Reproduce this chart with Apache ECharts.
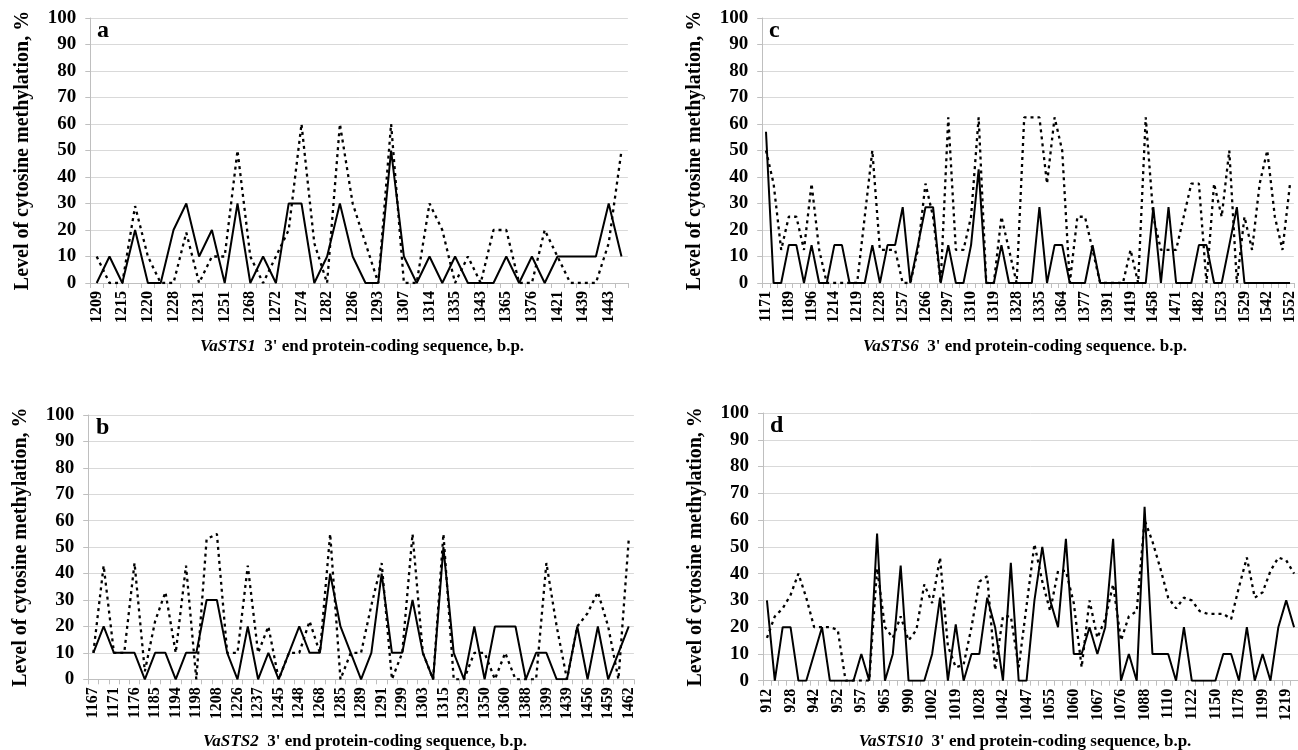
<!DOCTYPE html>
<html>
<head>
<meta charset="utf-8">
<script src="https://cdn.jsdelivr.net/npm/echarts@6/dist/echarts.min.js"></script>
<style>
html,body{margin:0;padding:0;background:#fff;overflow:hidden;}
#chart{width:1298px;height:750px;}
</style>
</head>
<body>
<div id="chart"></div>
<script>
// ---------- Panel a : VaSTS1 ----------
const aTicks = ['1209','1215','1220','1228','1231','1251','1268','1272','1274','1282','1286','1293','1307','1314','1335','1343','1365','1376','1421','1439','1443'];
const aSolid = [0,10,0,20,0,0,20,30,10,20, 0,30,0,10,0,30,30,0,10,30, 10,0,0,50,10,0,10,0,10,0, 0,0,10,0,10,0,10,10,10,10, 30,10];
const aDashed = [10,0,0,29,10,0,0,19,0,10, 10,50,10,0,10,20,60,15,0,60, 30,15,0,60,0,0,30,20,0,10, 0,20,20,0,0,20,10,0,0,0, 15,50];

// ---------- Panel b : VaSTS2 ----------
const bTicks = ['1167','1171','1176','1185','1194','1198','1208','1226','1237','1245','1248','1268','1285','1289','1291','1299','1303','1315','1329','1350','1360','1388','1399','1439','1456','1459','1462'];
const bSolid = [10,20,10,10,10,0,10,10,0,10, 10,30,30,10,0,20,0,10,0,10, 20,10,10,40,20,10,0,10,40,10, 10,30,10,0,50,10,0,20,0,20, 20,20,0,10,10,0,0,20,0,20, 0,10,20];
const bDashed = [10,43,10,10,44,3,22,33,10,43, 0,53,55,10,10,43,10,20,0,10, 10,22,10,55,0,10,10,28,44,0, 10,55,10,0,55,0,0,10,10,0, 10,0,0,0,44,20,0,20,25,33, 20,0,53];

// ---------- Panel c : VaSTS6 ----------
const cTicks = ['1171','1189','1196','1214','1219','1228','1257','1266','1297','1310','1319','1328','1335','1364','1377','1391','1419','1458','1471','1482','1523','1529','1542','1552'];
const cSolid = [57.1,0,0,14.3,14.3,0,14.3,0,0,14.3, 14.3,0,0,0,14.3,0,14.3,14.3,28.6,0, 14.3,28.6,28.6,0,14.3,0,0,14.3,42.9,0, 0,14.3,0,0,0,0,28.6,0,14.3,14.3, 0,0,0,14.3,0,0,0,0,0,0, 0,28.6,0,28.6,0,0,0,14.3,14.3,0, 0,14.3,28.6,0,0,0,0,0,0,0];
const cDashed = [50,37.5,12.5,25,25,12.5,37.5,12.5,0,0, 0,0,0,25,50,12.5,12.5,12.5,0,0, 12.5,37.5,25,0,62.5,12.5,12.5,25,62.5,0, 0,25,12.5,0,62.5,62.5,62.5,37.5,62.5,50, 0,25,25,12.5,0,0,0,0,12.5,0, 62.5,25,12.5,12.5,12.5,25,37.5,37.5,0,37.5, 25,50,0,25,12.5,37.5,50,25,12.5,37.5];

// ---------- Panel d : VaSTS10 ----------
const dTicks = ['912','928','942','952','957','965','990','1002','1019','1028','1042','1047','1055','1060','1067','1076','1088','1110','1122','1150','1178','1199','1219'];
const dSolid = [30,0,20,20,0,0,10,20,0,0, 0,0,10,0,55,0,10,43,0,0, 0,10,31,0,21,0,10,10,31,20, 0,44,0,0,30,50,30,20,53,10, 10,20,10,20,53,0,10,0,65,10, 10,10,0,20,0,0,0,0,10,10, 0,20,0,10,0,20,30,20];
const dDashed = [16,24,27,32,40,31,20,20,20,19, 0,0,0,0,42,20,16,24,15,19, 36,29,46,13,5,6,20,37,39,4, 24,24,5,28,51,37,26,41,41,29, 5,30,16,23,36,15,24,26,60,52, 42,31,27,31,30,26,25,25,25,23, 35,46,31,33,41,46,45,40];

const yTitle = 'Level of cytosine methylation, %';
const FONT = '"Liberation Serif","Times New Roman",serif';

function cats(ticks, n, step){
  const out = [];
  for(let i=0;i<n;i++){ out.push(i%step===0 && ticks[i/step]!==undefined ? ticks[i/step] : ''); }
  return out;
}

const panels = [
  {ticks:aTicks, solid:aSolid, dashed:aDashed, step:2, grid:{left:90.3, top:18, width:537.6, height:265}, lab:16},
  {ticks:cTicks, solid:cSolid, dashed:cDashed, step:3, grid:{left:762.2, top:18, width:537, height:265}, lab:16},
  {ticks:bTicks, solid:bSolid, dashed:bDashed, step:2, grid:{left:88.2, top:415, width:545.7, height:264.3}, lab:16},
  {ticks:dTicks, solid:dSolid, dashed:dDashed, step:3, grid:{left:763, top:413, width:544, height:267.7}, lab:16}
];

const grids=[], xAxes=[], yAxes=[], series=[];
panels.forEach((p,k)=>{
  grids.push(Object.assign({containLabel:false}, p.grid));
  xAxes.push({
    type:'category', gridIndex:k, boundaryGap:true,
    data: cats(p.ticks, p.solid.length, p.step),
    axisLine:{show:true, lineStyle:{color:'#bfbfbf', width:1}},
    axisTick:{show:true, interval:0, length:5, lineStyle:{color:'#bfbfbf'}},
    axisLabel:{interval:0, rotate:90, margin:8, fontFamily:FONT, fontWeight:'bold', fontSize:p.lab, color:'#000'},
    splitLine:{show:false}
  });
  yAxes.push({
    type:'value', gridIndex:k, min:0, max:100, interval:10,
    name: yTitle, nameLocation:'middle', nameGap:57,
    nameTextStyle:{fontFamily:FONT, fontWeight:'bold', fontSize:20, color:'#000'},
    axisLine:{show:true, lineStyle:{color:'#bfbfbf', width:1}},
    axisTick:{show:true, length:5, lineStyle:{color:'#bfbfbf'}},
    axisLabel:{margin:14, fontFamily:FONT, fontWeight:'bold', fontSize:19, color:'#000'},
    splitLine:{show:true, lineStyle:{color:'#d9d9d9', width:1}}
  });
  series.push({
    type:'line', xAxisIndex:k, yAxisIndex:k, data:p.dashed, symbol:'none', silent:true,
    lineStyle:{color:'#000', width:2.3, type:[3,4]}, z:2
  });
  series.push({
    type:'line', xAxisIndex:k, yAxisIndex:k, data:p.solid, symbol:'none', silent:true,
    lineStyle:{color:'#000', width:2, type:'solid'}, z:3
  });
});

function xTitle(name, rest, x, y){
  return {type:'text', x:x, y:y, z:10, style:{
    text:'{i|'+name+'}  '+rest, fontFamily:FONT, fontWeight:'bold', fontSize:17, fill:'#000',
    align:'center', verticalAlign:'middle',
    rich:{i:{fontStyle:'italic', fontWeight:'bold', fontFamily:FONT, fontSize:17, fill:'#000'}}
  }};
}
function letter(t, x, y){
  return {type:'text', x:x, y:y, z:10, style:{text:t, fontFamily:FONT, fontWeight:'bold', fontSize:24, fill:'#000', align:'left', verticalAlign:'middle'}};
}

const chart = echarts.init(document.getElementById('chart'), null, {renderer:'canvas'});
chart.setOption({
  animation:false,
  backgroundColor:'#fff',
  grid:grids, xAxis:xAxes, yAxis:yAxes, series:series,
  graphic:[
    letter('a', 97, 31), letter('c', 769, 31), letter('b', 96, 428), letter('d', 770, 426),
    xTitle('VaSTS1', "3' end protein-coding sequence, b.p.", 362, 347),
    xTitle('VaSTS6', "3' end protein-coding sequence. b.p.", 1025, 347),
    xTitle('VaSTS2', "3' end protein-coding sequence, b.p.", 365, 742),
    xTitle('VaSTS10', "3' end protein-coding sequence, b.p.", 1025, 742)
  ]
});
</script>
</body>
</html>
